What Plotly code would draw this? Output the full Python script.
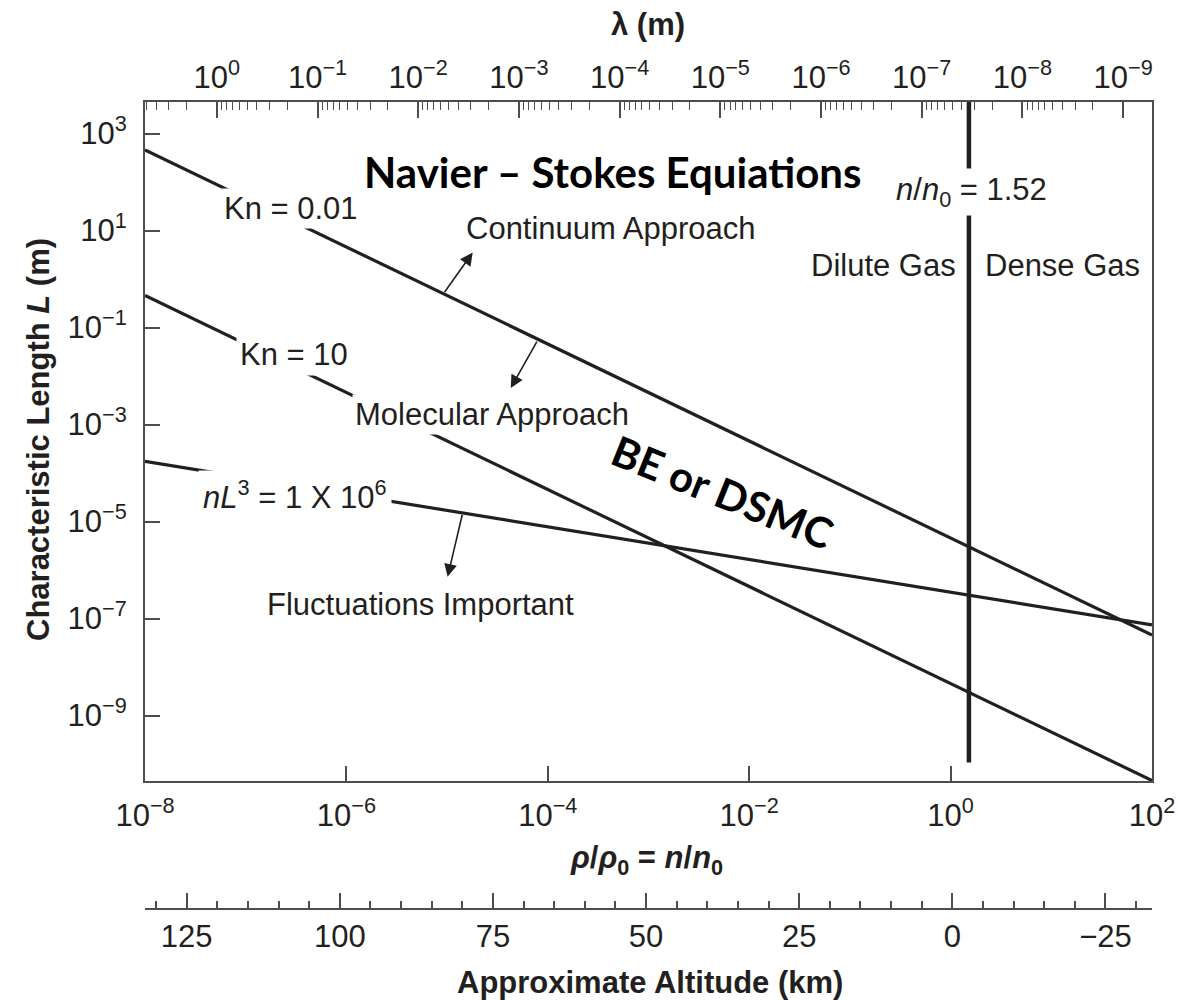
import plotly.graph_objects as go

# ---------------- data ----------------
# density ratio rho/rho0 = n/n0 at both ends of each boundary line
density_ends = [1e-8, 1e2]
L_kn_001 = [10 ** 2.66, 10 ** -7.34]      # Kn = 0.01
L_kn_10 = [10 ** -0.34, 10 ** -10.34]     # Kn = 10
L_nL3 = [10 ** -3.76, 10 ** -7.13]        # nL^3 = 1e6
vert_density = [1.52, 1.52]               # n/n0 = 1.52 (dilute / dense)
vert_L = [10 ** -9.97, 10 ** 3.65]

x_tickvals = [1e-8, 1e-6, 1e-4, 1e-2, 1e0, 1e2]
x_ticktext = ["10<sup>−8</sup>", "10<sup>−6</sup>", "10<sup>−4</sup>",
              "10<sup>−2</sup>", "10<sup>0</sup>", "10<sup>2</sup>"]
y_tickvals = [1e3, 1e1, 1e-1, 1e-3, 1e-5, 1e-7, 1e-9]
y_ticktext = ["10<sup>3</sup>", "10<sup>1</sup>", "10<sup>−1</sup>", "10<sup>−3</sup>",
              "10<sup>−5</sup>", "10<sup>−7</sup>", "10<sup>−9</sup>"]
lam_tickvals = [1, 1e-1, 1e-2, 1e-3, 1e-4, 1e-5, 1e-6, 1e-7, 1e-8, 1e-9]
lam_ticktext = ["10<sup>0</sup>", "10<sup>−1</sup>", "10<sup>−2</sup>", "10<sup>−3</sup>",
                "10<sup>−4</sup>", "10<sup>−5</sup>", "10<sup>−6</sup>", "10<sup>−7</sup>",
                "10<sup>−8</sup>", "10<sup>−9</sup>"]
lam_range_log = [0.713, -9.287]
alt_tickvals = [125, 100, 75, 50, 25, 0, -25]
alt_ticktext = ["125", "100", "75", "50", "25", "0", "−25"]
alt_range = [131.8, -32.6]

# ---------------- layout helpers ----------------
W, H = 1178, 1000
L_M, R_M, T_M, B_M = 145, 26, 102, 91
PW = W - L_M - R_M
PH = H - T_M - B_M


def px(x):
    return (x - L_M) / PW


def py(y):
    return (H - B_M - y) / PH


INK = "#231f20"
AX = "#4d4d4d"
FONT = "Liberation Sans, Arial, Helvetica, sans-serif"

fig = go.Figure()
line_style = dict(color=INK, width=3.2)
for ys in (L_kn_001, L_kn_10, L_nL3):
    fig.add_trace(go.Scatter(x=density_ends, y=ys, mode="lines", line=line_style,
                             showlegend=False, hoverinfo="skip"))
fig.add_trace(go.Scatter(x=vert_density, y=vert_L, mode="lines",
                         line=dict(color=INK, width=4.5), showlegend=False, hoverinfo="skip"))
# invisible traces binding the secondary axes
fig.add_trace(go.Scatter(x=[1e-3], y=[1e-3], xaxis="x2", yaxis="y", mode="markers",
                         marker=dict(opacity=0), showlegend=False, hoverinfo="skip"))
fig.add_trace(go.Scatter(x=[50], y=[1e-3], xaxis="x3", yaxis="y", mode="markers",
                         marker=dict(opacity=0), showlegend=False, hoverinfo="skip"))

tickfont = dict(family=FONT, size=31, color=INK)
lam_minor = [m * v for v in [10.0] + lam_tickvals for m in range(2, 10)]

fig.update_layout(
    width=W, height=H,
    margin=dict(l=L_M, r=R_M, t=T_M, b=B_M, autoexpand=False),
    paper_bgcolor="white", plot_bgcolor="white",
    font=dict(family=FONT, color=INK),
    xaxis=dict(type="log", range=[-8, 2], tickmode="array", tickvals=x_tickvals,
               ticktext=x_ticktext, ticks="inside", ticklen=15, tickwidth=1.5,
               tickcolor=AX, showline=True, linecolor=AX, linewidth=2, mirror=True,
               showgrid=False, zeroline=False, tickfont=tickfont, anchor="y",
               ticklabelstandoff=6, automargin=False),
    yaxis=dict(type="log", range=[-10.35, 3.65], domain=[py(781), 1], tickmode="array",
               tickvals=y_tickvals, ticktext=y_ticktext, ticks="inside", ticklen=15,
               tickwidth=1.5, tickcolor=AX, showline=True, linecolor=AX, linewidth=2,
               mirror=True, showgrid=False, zeroline=False, tickfont=tickfont,
               ticklabelstandoff=10, automargin=False),
    xaxis2=dict(type="log", range=lam_range_log, overlaying="x", side="top", anchor="y",
                tickmode="array", tickvals=lam_tickvals, ticktext=lam_ticktext,
                ticks="inside", ticklen=16, tickwidth=1.5, tickcolor=AX,
                minor=dict(tickmode="array", tickvals=lam_minor, ticks="inside",
                           ticklen=8, tickwidth=1.2, tickcolor=AX, showgrid=False),
                showline=True, linecolor=AX, linewidth=2, showgrid=False, zeroline=False,
                tickfont=tickfont, ticklabelstandoff=0, automargin=False),
    xaxis3=dict(range=alt_range, overlaying="x", anchor="free", position=0, side="bottom",
                tickmode="array", tickvals=alt_tickvals, ticktext=alt_ticktext,
                ticks="inside", ticklen=15, tickwidth=1.5, tickcolor=AX,
                minor=dict(dtick=5, tick0=0, ticks="inside", ticklen=7, tickwidth=1.5,
                           tickcolor=AX, showgrid=False),
                showline=True, linecolor=AX, linewidth=2, showgrid=False, zeroline=False,
                tickfont=tickfont, ticklabelstandoff=0, automargin=False),
)

ann = []
txt = dict(family=FONT, size=31, color=INK)


def data_label(text, xl, yl, bg=False, pad=1, font=None, angle=0):
    d = dict(x=xl, y=yl, xref="x", yref="y", text=text, showarrow=False,
             font=font or txt, textangle=angle, xanchor="center", yanchor="middle")
    if bg:
        d.update(bgcolor="white", borderpad=pad)
    ann.append(d)


def arrow(x_head, y_head, x_tail, y_tail):
    ann.append(dict(x=x_head, y=y_head, ax=x_tail, ay=y_tail, xref="x", yref="y",
                    axref="x", ayref="y", text="", showarrow=True, arrowhead=2,
                    arrowsize=1.6, arrowwidth=1.6, arrowcolor=INK, standoff=0,
                    startstandoff=0))


calibri = dict(family="Lato, Carlito, Calibri, sans-serif", size=42, color="black")
data_label("<b>Navier – Stokes Equiations</b>", -3.353, 2.203, font=calibri)
data_label("<b>BE or DSMC</b>", -2.259, -4.381, font=calibri, angle=22)
data_label("Kn = 0.01", -6.547, 1.458, bg=True, pad=2)
data_label("Continuum Approach", -3.373, 1.043)
data_label("Kn = 10", -6.517, -1.565, bg=True, pad=3)
data_label("Molecular Approach", -4.557, -2.787, bg=True, pad=2)
data_label("<i>nL</i><sup>3</sup> = 1 X 10<sup>6</sup>", -6.507, -4.443, bg=True, pad=4)
data_label("Fluctuations Important", -5.264, -6.72)
data_label("<i>n</i>/<i>n</i><sub>0</sub> = 1.52", 0.209, 1.789, bg=True, pad=3)
data_label("Dilute Gas", -0.667, 0.277)
data_label("Dense Gas", 1.114, 0.277)

arrow(-4.746, 0.547, -5.035, -0.30)
arrow(-4.368, -2.249, -4.10, -1.26)
arrow(-4.995, -6.14, -4.846, -4.83)

title_font = dict(family=FONT, size=31, color=INK)
for text, x, y, angle in [
    ("<b>λ (m)</b>", 648, 25, 0),
    ("<b><i>ρ</i>/<i>ρ</i><sub>0</sub> = <i>n</i>/<i>n</i><sub>0</sub></b>", 646, 860, 0),
    ("<b>Approximate Altitude (km)</b>", 650, 983, 0),
    ("<b>Characteristic Length <i>L</i> (m)</b>", 38, 440, -90),
]:
    ann.append(dict(x=px(x), y=py(y), xref="paper", yref="paper", text=text,
                    showarrow=False, font=title_font, textangle=angle,
                    xanchor="center", yanchor="middle"))

fig.update_layout(annotations=ann)
fig.write_html("out.html")
